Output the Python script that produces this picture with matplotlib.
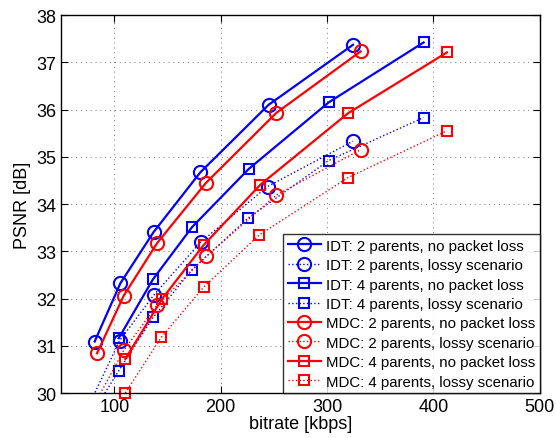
import numpy as np
import matplotlib
matplotlib.use("Agg")
import matplotlib.pyplot as plt

plt.rcParams["font.family"] = ["Liberation Sans", "DejaVu Sans"]

# bitrate [kbps] and PSNR [dB] per curve
idt2_x = [81.5, 105.6, 137.0, 180.8, 245.0, 324.3]
idt2_y = [31.09, 32.32, 33.41, 34.67, 36.10, 37.37]
idt2_loss_x = [70.0, 105.0, 137.0, 181.0, 244.0, 324.3]
idt2_loss_y = [29.45, 31.11, 32.07, 33.19, 34.37, 35.33]

idt4_x = [104.1, 136.4, 173.0, 226.2, 301.4, 390.7]
idt4_y = [31.16, 32.41, 33.51, 34.74, 36.15, 37.42]
idt4_loss_x = [80.0, 104.1, 136.4, 173.0, 225.6, 301.4, 390.7]
idt4_loss_y = [29.60, 30.47, 31.60, 32.61, 33.70, 34.92, 35.83]

mdc2_x = [83.7, 108.8, 140.1, 186.2, 252.3, 331.5]
mdc2_y = [30.84, 32.06, 33.17, 34.45, 35.93, 37.23]
mdc2_loss_x = [75.0, 108.7, 140.1, 186.2, 252.3, 331.5]
mdc2_loss_y = [29.50, 30.90, 31.86, 32.89, 34.19, 35.15]

mdc4_x = [110.3, 144.8, 183.9, 237.3, 319.6, 412.7]
mdc4_y = [30.72, 31.99, 33.13, 34.41, 35.92, 37.21]
mdc4_loss_x = [110.3, 144.2, 183.9, 235.9, 319.6, 412.7]
mdc4_loss_y = [30.00, 31.18, 32.24, 33.34, 34.56, 35.55]

labels = ["IDT: 2 parents, no packet loss", "IDT: 2 parents, lossy scenario",
          "IDT: 4 parents, no packet loss", "IDT: 4 parents, lossy scenario",
          "MDC: 2 parents, no packet loss", "MDC: 2 parents, lossy scenario",
          "MDC: 4 parents, no packet loss", "MDC: 4 parents, lossy scenario"]

series = [(idt2_x, idt2_y), (idt2_loss_x, idt2_loss_y),
          (idt4_x, idt4_y), (idt4_loss_x, idt4_loss_y),
          (mdc2_x, mdc2_y), (mdc2_loss_x, mdc2_loss_y),
          (mdc4_x, mdc4_y), (mdc4_loss_x, mdc4_loss_y)]

fig = plt.figure(figsize=(5.56, 4.39), dpi=100)
ax = fig.add_axes([0.110, 0.1025, 0.861, 0.861])
ylim = (30, 38)

handles = []
for i, ((x, y), lab) in enumerate(zip(series, labels)):
    color = "blue" if i < 4 else "red"
    marker = "o" if (i // 2) % 2 == 0 else "s"
    ms = 9.5 if marker == "o" else 7.5
    lossy = i % 2 == 1
    ls = ":" if lossy else "-"
    lw = 1.0 if lossy else 1.6
    ax.plot(x, y, ls=ls, color=color, lw=lw)
    x = np.asarray(x); y = np.asarray(y)
    # markers inside the y range drawn unclipped (MATLAB style)
    keep = (y >= ylim[0]) & (y <= ylim[1])
    ax.plot(x[keep], y[keep], ls="none", marker=marker, ms=ms, mfc="none",
            mec=color, mew=1.5, clip_on=False)
    h, = ax.plot([], [], ls=ls, color=color, lw=lw, marker=marker, ms=ms,
                 mfc="none", mec=color, mew=1.5, label=lab)
    handles.append(h)

ax.set_xlim(50, 500)
ax.set_ylim(*ylim)
ax.set_xticks([100, 200, 300, 400, 500])
ax.set_yticks(np.arange(30, 39, 1))
ax.grid(True, ls=(0, (1, 4)), color="#777777", lw=0.7)
ax.tick_params(direction="in", top=True, right=True, labelsize=13, length=5)
for s in ax.spines.values():
    s.set_linewidth(1.0)
ax.set_xlabel("bitrate [kbps]", fontsize=13, labelpad=0)
ax.set_ylabel("PSNR [dB]", fontsize=13, labelpad=4)

leg = ax.legend(handles=handles, loc="lower right", borderaxespad=0, fontsize=10.8,
                frameon=True, fancybox=False, edgecolor="black", handlelength=2.2,
                handletextpad=0.35, labelspacing=0.36, borderpad=0.3)
leg.get_frame().set_linewidth(1.0)

fig.savefig("out.png", dpi=100)
